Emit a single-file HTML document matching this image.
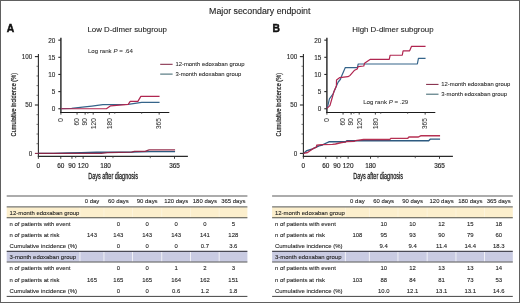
<!DOCTYPE html>
<html><head><meta charset="utf-8"><title>Major secondary endpoint</title>
<style>svg{will-change:transform;transform:translateZ(0);filter:blur(0.28px);}html,body{margin:0;padding:0;background:#fff;width:520px;height:303px;overflow:hidden;font-family:"Liberation Sans", sans-serif;}</style>
</head><body>
<svg width="520" height="303" viewBox="0 0 520 303" style="display:block" font-family='"Liberation Sans", sans-serif'>
<rect x="0" y="0" width="520" height="303" fill="#fff"/>
<style>text{stroke:#1e1e1e;stroke-width:0.1px;paint-order:stroke}</style>
<text x="259.75" y="14.40" font-size="8.82" text-anchor="middle" fill="#222" font-weight="normal" >Major secondary endpoint</text>
<line x1="38.40" y1="54.00" x2="38.40" y2="156.90" stroke="#2a2a2a" stroke-width="1.1" />
<line x1="37.85" y1="156.40" x2="187.90" y2="156.40" stroke="#2a2a2a" stroke-width="1.1" />
<line x1="34.90" y1="153.40" x2="38.40" y2="153.40" stroke="#8a2a48" stroke-width="1.1" />
<line x1="36.50" y1="143.72" x2="38.40" y2="143.72" stroke="#444" stroke-width="0.75" />
<line x1="36.50" y1="134.04" x2="38.40" y2="134.04" stroke="#444" stroke-width="0.75" />
<line x1="36.50" y1="124.36" x2="38.40" y2="124.36" stroke="#444" stroke-width="0.75" />
<line x1="36.50" y1="114.68" x2="38.40" y2="114.68" stroke="#444" stroke-width="0.75" />
<line x1="34.90" y1="105.00" x2="38.40" y2="105.00" stroke="#2a2a2a" stroke-width="1.1" />
<line x1="36.50" y1="95.32" x2="38.40" y2="95.32" stroke="#444" stroke-width="0.75" />
<line x1="36.50" y1="85.64" x2="38.40" y2="85.64" stroke="#444" stroke-width="0.75" />
<line x1="36.50" y1="75.96" x2="38.40" y2="75.96" stroke="#444" stroke-width="0.75" />
<line x1="36.50" y1="66.28" x2="38.40" y2="66.28" stroke="#444" stroke-width="0.75" />
<line x1="34.90" y1="56.60" x2="38.40" y2="56.60" stroke="#2a2a2a" stroke-width="1.1" />
<text x="32.30" y="155.65" font-size="6.3" text-anchor="end" fill="#1e1e1e" font-weight="normal" >0</text>
<text x="32.30" y="107.25" font-size="6.3" text-anchor="end" fill="#1e1e1e" font-weight="normal" >50</text>
<text x="32.30" y="58.85" font-size="6.3" text-anchor="end" fill="#1e1e1e" font-weight="normal" >100</text>
<line x1="38.40" y1="156.40" x2="38.40" y2="158.80" stroke="#2a2a2a" stroke-width="0.9" />
<text x="38.40" y="167.70" font-size="6.45" text-anchor="middle" fill="#1e1e1e" font-weight="normal" style="stroke-width:0.15px">0</text>
<line x1="60.77" y1="156.40" x2="60.77" y2="158.80" stroke="#2a2a2a" stroke-width="0.9" />
<text x="60.77" y="167.70" font-size="6.45" text-anchor="middle" fill="#1e1e1e" font-weight="normal" style="stroke-width:0.15px">60</text>
<line x1="71.96" y1="156.40" x2="71.96" y2="158.80" stroke="#2a2a2a" stroke-width="0.9" />
<text x="71.96" y="167.70" font-size="6.45" text-anchor="middle" fill="#1e1e1e" font-weight="normal" style="stroke-width:0.15px">90</text>
<line x1="83.15" y1="156.40" x2="83.15" y2="158.80" stroke="#2a2a2a" stroke-width="0.9" />
<text x="83.15" y="167.70" font-size="6.45" text-anchor="middle" fill="#1e1e1e" font-weight="normal" style="stroke-width:0.15px">120</text>
<line x1="105.52" y1="156.40" x2="105.52" y2="158.80" stroke="#2a2a2a" stroke-width="0.9" />
<text x="105.52" y="167.70" font-size="6.45" text-anchor="middle" fill="#1e1e1e" font-weight="normal" style="stroke-width:0.15px">180</text>
<line x1="174.51" y1="156.40" x2="174.51" y2="158.80" stroke="#2a2a2a" stroke-width="0.9" />
<text x="174.51" y="167.70" font-size="6.45" text-anchor="middle" fill="#1e1e1e" font-weight="normal" style="stroke-width:0.15px">365</text>
<line x1="75.69" y1="156.40" x2="75.69" y2="158.20" stroke="#444" stroke-width="0.8" />
<line x1="112.98" y1="156.40" x2="112.98" y2="158.20" stroke="#444" stroke-width="0.8" />
<line x1="150.27" y1="156.40" x2="150.27" y2="158.20" stroke="#444" stroke-width="0.8" />
<text x="88.20" y="178.80" font-size="8.5" text-anchor="start" fill="#1e1e1e" font-weight="normal" textLength="49.8" lengthAdjust="spacingAndGlyphs" style="stroke-width:0.28px">Days after diagnosis</text>
<text transform="translate(15.90,104.7) rotate(-90)" x="0" y="0" font-size="8.0" text-anchor="middle" fill="#222" style="stroke-width:0.22px" textLength="63.4" lengthAdjust="spacingAndGlyphs">Cumulative incidence (%)</text>
<polyline points="38.40,153.35 53.32,153.30 68.23,152.96 81.28,152.64 96.57,152.22 131.62,152.16 150.27,151.60 175.07,151.60" fill="none" stroke="#2d5a80" stroke-width="1.35" stroke-linejoin="round" />
<polyline points="38.40,153.40 101.42,153.40 107.39,152.58 131.62,152.16 134.42,151.32 145.05,151.32 149.15,149.92 175.07,149.92" fill="none" stroke="#8e1f40" stroke-width="1.35" stroke-linejoin="round" stroke-opacity="0.92"/>
<line x1="60.90" y1="37.70" x2="60.90" y2="113.10" stroke="#1a1a1a" stroke-width="1.35" />
<line x1="60.40" y1="112.50" x2="169.30" y2="112.50" stroke="#1a1a1a" stroke-width="1.2" />
<line x1="58.30" y1="108.75" x2="60.90" y2="108.75" stroke="#2a2a2a" stroke-width="1.1" />
<text x="55.40" y="111.45" font-size="6.4" text-anchor="end" fill="#1e1e1e" font-weight="normal" >0</text>
<line x1="58.30" y1="91.60" x2="60.90" y2="91.60" stroke="#2a2a2a" stroke-width="1.1" />
<text x="55.40" y="94.30" font-size="6.4" text-anchor="end" fill="#1e1e1e" font-weight="normal" >5</text>
<line x1="58.30" y1="74.45" x2="60.90" y2="74.45" stroke="#2a2a2a" stroke-width="1.1" />
<text x="55.40" y="77.15" font-size="6.4" text-anchor="end" fill="#1e1e1e" font-weight="normal" >10</text>
<line x1="58.30" y1="57.30" x2="60.90" y2="57.30" stroke="#2a2a2a" stroke-width="1.1" />
<text x="55.40" y="60.00" font-size="6.4" text-anchor="end" fill="#1e1e1e" font-weight="normal" >15</text>
<line x1="58.30" y1="40.15" x2="60.90" y2="40.15" stroke="#2a2a2a" stroke-width="1.1" />
<text x="55.40" y="42.85" font-size="6.4" text-anchor="end" fill="#1e1e1e" font-weight="normal" >20</text>
<line x1="60.90" y1="112.50" x2="60.90" y2="114.60" stroke="#2a2a2a" stroke-width="0.9" />
<text transform="translate(63.20,118.2) rotate(-90)" x="0" y="0" font-size="6.5" text-anchor="end" fill="#2e2e2e" style="stroke-width:0.04px">0</text>
<line x1="77.05" y1="112.50" x2="77.05" y2="114.60" stroke="#2a2a2a" stroke-width="0.9" />
<text transform="translate(79.35,118.2) rotate(-90)" x="0" y="0" font-size="6.5" text-anchor="end" fill="#2e2e2e" style="stroke-width:0.04px">60</text>
<line x1="85.13" y1="112.50" x2="85.13" y2="114.60" stroke="#2a2a2a" stroke-width="0.9" />
<text transform="translate(87.43,118.2) rotate(-90)" x="0" y="0" font-size="6.5" text-anchor="end" fill="#2e2e2e" style="stroke-width:0.04px">90</text>
<line x1="93.20" y1="112.50" x2="93.20" y2="114.60" stroke="#2a2a2a" stroke-width="0.9" />
<text transform="translate(95.50,118.2) rotate(-90)" x="0" y="0" font-size="6.5" text-anchor="end" fill="#2e2e2e" style="stroke-width:0.04px">120</text>
<line x1="109.36" y1="112.50" x2="109.36" y2="114.60" stroke="#2a2a2a" stroke-width="0.9" />
<text transform="translate(111.66,118.2) rotate(-90)" x="0" y="0" font-size="6.5" text-anchor="end" fill="#2e2e2e" style="stroke-width:0.04px">180</text>
<line x1="159.16" y1="112.50" x2="159.16" y2="114.60" stroke="#2a2a2a" stroke-width="0.9" />
<text transform="translate(161.46,118.2) rotate(-90)" x="0" y="0" font-size="6.5" text-anchor="end" fill="#2e2e2e" style="stroke-width:0.04px">365</text>
<line x1="87.82" y1="112.50" x2="87.82" y2="114.00" stroke="#555" stroke-width="0.7" />
<line x1="114.74" y1="112.50" x2="114.74" y2="114.00" stroke="#555" stroke-width="0.7" />
<line x1="141.66" y1="112.50" x2="141.66" y2="114.00" stroke="#555" stroke-width="0.7" />
<polyline points="60.90,108.58 71.67,108.41 82.44,107.21 91.86,106.07 102.90,104.57 128.20,104.36 141.66,102.37 159.56,102.37" fill="none" stroke="#35648a" stroke-width="1.2" stroke-linejoin="round" />
<polyline points="60.90,108.75 106.39,108.75 110.70,105.83 128.20,104.36 130.22,101.38 137.89,101.38 140.85,96.40 159.56,96.40" fill="none" stroke="#b02650" stroke-width="1.2" stroke-linejoin="round" />
<text x="127.20" y="32.20" font-size="7.87" text-anchor="middle" fill="#222" font-weight="normal" >Low D-dimer subgroup</text>
<text x="6.70" y="32.20" font-size="10.3" text-anchor="start" fill="#111" font-weight="bold" style="stroke:#111;stroke-width:0.45px">A</text>
<text x="87.90" y="53.00" font-size="6.12" fill="#2a2a2a" style="stroke-width:0.05px">Log rank <tspan font-style="italic">P</tspan> = .64</text>
<line x1="160.20" y1="64.30" x2="172.60" y2="64.30" stroke="#7e1f3e" stroke-width="1.0" />
<line x1="160.20" y1="74.10" x2="172.60" y2="74.10" stroke="#37606a" stroke-width="1.0" />
<text x="175.40" y="66.10" font-size="5.9" text-anchor="start" fill="#2a2a2a" font-weight="normal" style="stroke-width:0.08px">12-month edoxaban group</text>
<text x="175.40" y="76.10" font-size="5.9" text-anchor="start" fill="#2a2a2a" font-weight="normal" style="stroke-width:0.08px">3-month edoxaban group</text>
<line x1="303.40" y1="54.00" x2="303.40" y2="156.90" stroke="#2a2a2a" stroke-width="1.1" />
<line x1="302.85" y1="156.40" x2="452.90" y2="156.40" stroke="#2a2a2a" stroke-width="1.1" />
<line x1="299.90" y1="153.40" x2="303.40" y2="153.40" stroke="#2a2a2a" stroke-width="1.1" />
<line x1="301.50" y1="143.72" x2="303.40" y2="143.72" stroke="#444" stroke-width="0.75" />
<line x1="301.50" y1="134.04" x2="303.40" y2="134.04" stroke="#444" stroke-width="0.75" />
<line x1="301.50" y1="124.36" x2="303.40" y2="124.36" stroke="#444" stroke-width="0.75" />
<line x1="301.50" y1="114.68" x2="303.40" y2="114.68" stroke="#444" stroke-width="0.75" />
<line x1="299.90" y1="105.00" x2="303.40" y2="105.00" stroke="#2a2a2a" stroke-width="1.1" />
<line x1="301.50" y1="95.32" x2="303.40" y2="95.32" stroke="#444" stroke-width="0.75" />
<line x1="301.50" y1="85.64" x2="303.40" y2="85.64" stroke="#444" stroke-width="0.75" />
<line x1="301.50" y1="75.96" x2="303.40" y2="75.96" stroke="#444" stroke-width="0.75" />
<line x1="301.50" y1="66.28" x2="303.40" y2="66.28" stroke="#444" stroke-width="0.75" />
<line x1="299.90" y1="56.60" x2="303.40" y2="56.60" stroke="#2a2a2a" stroke-width="1.1" />
<text x="297.30" y="155.65" font-size="6.3" text-anchor="end" fill="#1e1e1e" font-weight="normal" >0</text>
<text x="297.30" y="107.25" font-size="6.3" text-anchor="end" fill="#1e1e1e" font-weight="normal" >50</text>
<text x="297.30" y="58.85" font-size="6.3" text-anchor="end" fill="#1e1e1e" font-weight="normal" >100</text>
<line x1="303.40" y1="156.40" x2="303.40" y2="158.80" stroke="#2a2a2a" stroke-width="0.9" />
<text x="303.40" y="167.70" font-size="6.45" text-anchor="middle" fill="#1e1e1e" font-weight="normal" style="stroke-width:0.15px">0</text>
<line x1="325.77" y1="156.40" x2="325.77" y2="158.80" stroke="#2a2a2a" stroke-width="0.9" />
<text x="325.77" y="167.70" font-size="6.45" text-anchor="middle" fill="#1e1e1e" font-weight="normal" style="stroke-width:0.15px">60</text>
<line x1="336.96" y1="156.40" x2="336.96" y2="158.80" stroke="#2a2a2a" stroke-width="0.9" />
<text x="336.96" y="167.70" font-size="6.45" text-anchor="middle" fill="#1e1e1e" font-weight="normal" style="stroke-width:0.15px">90</text>
<line x1="348.15" y1="156.40" x2="348.15" y2="158.80" stroke="#2a2a2a" stroke-width="0.9" />
<text x="348.15" y="167.70" font-size="6.45" text-anchor="middle" fill="#1e1e1e" font-weight="normal" style="stroke-width:0.15px">120</text>
<line x1="370.52" y1="156.40" x2="370.52" y2="158.80" stroke="#2a2a2a" stroke-width="0.9" />
<text x="370.52" y="167.70" font-size="6.45" text-anchor="middle" fill="#1e1e1e" font-weight="normal" style="stroke-width:0.15px">180</text>
<line x1="439.51" y1="156.40" x2="439.51" y2="158.80" stroke="#2a2a2a" stroke-width="0.9" />
<text x="439.51" y="167.70" font-size="6.45" text-anchor="middle" fill="#1e1e1e" font-weight="normal" style="stroke-width:0.15px">365</text>
<line x1="340.69" y1="156.40" x2="340.69" y2="158.20" stroke="#444" stroke-width="0.8" />
<line x1="377.98" y1="156.40" x2="377.98" y2="158.20" stroke="#444" stroke-width="0.8" />
<line x1="415.27" y1="156.40" x2="415.27" y2="158.20" stroke="#444" stroke-width="0.8" />
<text x="353.20" y="178.80" font-size="8.5" text-anchor="start" fill="#1e1e1e" font-weight="normal" textLength="49.8" lengthAdjust="spacingAndGlyphs" style="stroke-width:0.28px">Days after diagnosis</text>
<text transform="translate(280.90,104.7) rotate(-90)" x="0" y="0" font-size="8.0" text-anchor="middle" fill="#222" style="stroke-width:0.22px" textLength="63.4" lengthAdjust="spacingAndGlyphs">Cumulative incidence (%)</text>
<polyline points="303.40,153.30 304.11,153.11 306.87,150.59 311.79,149.24 315.71,147.40 319.06,145.85 322.23,145.08 323.09,144.49 328.91,141.78 345.54,141.78 346.81,140.77 428.69,140.77 430.19,139.17 440.07,139.17" fill="none" stroke="#2d5a80" stroke-width="1.35" stroke-linejoin="round" />
<polyline points="303.40,153.30 307.58,152.53 310.75,150.30 313.47,148.37 316.56,147.01 316.71,145.27 321.30,144.59 332.49,144.35 335.47,144.01 341.81,142.52 345.39,142.18 346.77,141.50 354.49,141.34 355.49,140.57 363.66,139.46 389.76,139.46 391.03,138.30 407.81,138.30 408.93,137.04 418.03,137.04 420.68,135.78 440.07,135.78" fill="none" stroke="#b02044" stroke-width="1.35" stroke-linejoin="round" stroke-opacity="0.92"/>
<line x1="326.90" y1="37.70" x2="326.90" y2="113.10" stroke="#1a1a1a" stroke-width="1.35" />
<line x1="326.40" y1="112.50" x2="435.30" y2="112.50" stroke="#1a1a1a" stroke-width="1.2" />
<line x1="324.30" y1="108.75" x2="326.90" y2="108.75" stroke="#2a2a2a" stroke-width="1.1" />
<text x="321.40" y="111.45" font-size="6.4" text-anchor="end" fill="#1e1e1e" font-weight="normal" >0</text>
<line x1="324.30" y1="91.60" x2="326.90" y2="91.60" stroke="#2a2a2a" stroke-width="1.1" />
<text x="321.40" y="94.30" font-size="6.4" text-anchor="end" fill="#1e1e1e" font-weight="normal" >5</text>
<line x1="324.30" y1="74.45" x2="326.90" y2="74.45" stroke="#2a2a2a" stroke-width="1.1" />
<text x="321.40" y="77.15" font-size="6.4" text-anchor="end" fill="#1e1e1e" font-weight="normal" >10</text>
<line x1="324.30" y1="57.30" x2="326.90" y2="57.30" stroke="#2a2a2a" stroke-width="1.1" />
<text x="321.40" y="60.00" font-size="6.4" text-anchor="end" fill="#1e1e1e" font-weight="normal" >15</text>
<line x1="324.30" y1="40.15" x2="326.90" y2="40.15" stroke="#2a2a2a" stroke-width="1.1" />
<text x="321.40" y="42.85" font-size="6.4" text-anchor="end" fill="#1e1e1e" font-weight="normal" >20</text>
<line x1="326.90" y1="112.50" x2="326.90" y2="114.60" stroke="#2a2a2a" stroke-width="0.9" />
<text transform="translate(329.20,118.2) rotate(-90)" x="0" y="0" font-size="6.5" text-anchor="end" fill="#2e2e2e" style="stroke-width:0.04px">0</text>
<line x1="343.05" y1="112.50" x2="343.05" y2="114.60" stroke="#2a2a2a" stroke-width="0.9" />
<text transform="translate(345.35,118.2) rotate(-90)" x="0" y="0" font-size="6.5" text-anchor="end" fill="#2e2e2e" style="stroke-width:0.04px">60</text>
<line x1="351.13" y1="112.50" x2="351.13" y2="114.60" stroke="#2a2a2a" stroke-width="0.9" />
<text transform="translate(353.43,118.2) rotate(-90)" x="0" y="0" font-size="6.5" text-anchor="end" fill="#2e2e2e" style="stroke-width:0.04px">90</text>
<line x1="359.20" y1="112.50" x2="359.20" y2="114.60" stroke="#2a2a2a" stroke-width="0.9" />
<text transform="translate(361.50,118.2) rotate(-90)" x="0" y="0" font-size="6.5" text-anchor="end" fill="#2e2e2e" style="stroke-width:0.04px">120</text>
<line x1="375.36" y1="112.50" x2="375.36" y2="114.60" stroke="#2a2a2a" stroke-width="0.9" />
<text transform="translate(377.66,118.2) rotate(-90)" x="0" y="0" font-size="6.5" text-anchor="end" fill="#2e2e2e" style="stroke-width:0.04px">180</text>
<line x1="425.16" y1="112.50" x2="425.16" y2="114.60" stroke="#2a2a2a" stroke-width="0.9" />
<text transform="translate(427.46,118.2) rotate(-90)" x="0" y="0" font-size="6.5" text-anchor="end" fill="#2e2e2e" style="stroke-width:0.04px">365</text>
<line x1="353.82" y1="112.50" x2="353.82" y2="114.00" stroke="#555" stroke-width="0.7" />
<line x1="380.74" y1="112.50" x2="380.74" y2="114.00" stroke="#555" stroke-width="0.7" />
<line x1="407.66" y1="112.50" x2="407.66" y2="114.00" stroke="#555" stroke-width="0.7" />
<polyline points="326.90,108.41 327.41,107.72 329.40,98.80 332.96,94.00 335.78,87.48 338.21,82.00 340.49,79.25 341.11,77.19 345.31,67.59 357.32,67.59 358.23,63.99 417.35,63.99 418.43,58.33 425.56,58.33" fill="none" stroke="#35648a" stroke-width="1.2" stroke-linejoin="round" />
<polyline points="326.90,108.41 329.92,105.66 332.20,97.77 334.17,90.91 336.40,86.11 336.51,79.94 339.82,77.54 347.90,76.68 350.05,75.48 354.63,70.20 357.21,69.00 358.21,66.60 363.78,66.01 364.51,63.30 370.40,59.36 389.25,59.36 390.16,55.24 402.28,55.24 403.08,50.78 409.65,50.78 411.56,46.32 425.56,46.32" fill="none" stroke="#b02650" stroke-width="1.2" stroke-linejoin="round" />
<text x="392.90" y="32.20" font-size="7.87" text-anchor="middle" fill="#222" font-weight="normal" >High D-dimer subgroup</text>
<text x="272.40" y="32.20" font-size="10.3" text-anchor="start" fill="#111" font-weight="bold" style="stroke:#111;stroke-width:0.45px">B</text>
<text x="363.20" y="104.40" font-size="6.12" fill="#2a2a2a" style="stroke-width:0.05px">Log rank <tspan font-style="italic">P</tspan> = .29</text>
<line x1="426.10" y1="84.40" x2="438.50" y2="84.40" stroke="#7e1f3e" stroke-width="1.0" />
<line x1="426.10" y1="94.20" x2="438.50" y2="94.20" stroke="#37606a" stroke-width="1.0" />
<text x="441.30" y="86.20" font-size="5.9" text-anchor="start" fill="#2a2a2a" font-weight="normal" style="stroke-width:0.08px">12-month edoxaban group</text>
<text x="441.30" y="96.20" font-size="5.9" text-anchor="start" fill="#2a2a2a" font-weight="normal" style="stroke-width:0.08px">3-month edoxaban group</text>
<rect x="6.70" y="207.2" width="240.70" height="10.6" fill="#fcefcd"/>
<rect x="6.70" y="251.8" width="240.70" height="10.0" fill="#c9cbe2"/>
<rect x="79.50" y="207.2" width="0.9" height="10.6" fill="#fff" opacity="0.35"/>
<rect x="79.50" y="251.8" width="0.9" height="10.0" fill="#fff" opacity="0.8"/>
<rect x="103.50" y="207.2" width="0.9" height="10.6" fill="#fff" opacity="0.35"/>
<rect x="103.50" y="251.8" width="0.9" height="10.0" fill="#fff" opacity="0.8"/>
<rect x="132.10" y="207.2" width="0.9" height="10.6" fill="#fff" opacity="0.35"/>
<rect x="132.10" y="251.8" width="0.9" height="10.0" fill="#fff" opacity="0.8"/>
<rect x="161.30" y="207.2" width="0.9" height="10.6" fill="#fff" opacity="0.35"/>
<rect x="161.30" y="251.8" width="0.9" height="10.0" fill="#fff" opacity="0.8"/>
<rect x="190.10" y="207.2" width="0.9" height="10.6" fill="#fff" opacity="0.35"/>
<rect x="190.10" y="251.8" width="0.9" height="10.0" fill="#fff" opacity="0.8"/>
<rect x="218.70" y="207.2" width="0.9" height="10.6" fill="#fff" opacity="0.35"/>
<rect x="218.70" y="251.8" width="0.9" height="10.0" fill="#fff" opacity="0.8"/>
<line x1="6.70" y1="196.00" x2="247.40" y2="196.00" stroke="#5a5a5a" stroke-width="1.1" />
<line x1="6.70" y1="206.90" x2="247.40" y2="206.90" stroke="#555550" stroke-width="1.0" />
<line x1="6.70" y1="217.70" x2="247.40" y2="217.70" stroke="#4f4f48" stroke-width="1.1" />
<line x1="6.70" y1="251.40" x2="247.40" y2="251.40" stroke="#4a4a55" stroke-width="1.3" />
<line x1="6.70" y1="262.00" x2="247.40" y2="262.00" stroke="#555" stroke-width="1.0" />
<line x1="6.70" y1="296.40" x2="247.40" y2="296.40" stroke="#444" stroke-width="1.0" />
<text x="92.00" y="203.20" font-size="6.15" text-anchor="middle" fill="#1e1e1e" font-weight="normal" textLength="14.56" lengthAdjust="spacingAndGlyphs" >0 day</text>
<text x="118.30" y="203.20" font-size="6.15" text-anchor="middle" fill="#1e1e1e" font-weight="normal" textLength="20.84" lengthAdjust="spacingAndGlyphs" >60 days</text>
<text x="147.20" y="203.20" font-size="6.15" text-anchor="middle" fill="#1e1e1e" font-weight="normal" textLength="20.84" lengthAdjust="spacingAndGlyphs" >90 days</text>
<text x="176.20" y="203.20" font-size="6.15" text-anchor="middle" fill="#1e1e1e" font-weight="normal" textLength="24.15" lengthAdjust="spacingAndGlyphs" >120 days</text>
<text x="204.90" y="203.20" font-size="6.15" text-anchor="middle" fill="#1e1e1e" font-weight="normal" textLength="24.15" lengthAdjust="spacingAndGlyphs" >180 days</text>
<text x="233.30" y="203.20" font-size="6.15" text-anchor="middle" fill="#1e1e1e" font-weight="normal" textLength="24.15" lengthAdjust="spacingAndGlyphs" >365 days</text>
<text x="9.60" y="214.50" font-size="6.15" text-anchor="start" fill="#1e1e1e" font-weight="normal" textLength="69.8" lengthAdjust="spacingAndGlyphs" >12-month edoxaban group</text>
<text x="9.60" y="259.40" font-size="6.15" text-anchor="start" fill="#1e1e1e" font-weight="normal" textLength="66.49" lengthAdjust="spacingAndGlyphs" >3-month edoxaban group</text>
<text x="9.60" y="225.80" font-size="6.15" text-anchor="start" fill="#1e1e1e" font-weight="normal" textLength="60.86" lengthAdjust="spacingAndGlyphs" >n of patients with event</text>
<text x="118.30" y="225.80" font-size="6.15" text-anchor="middle" fill="#1e1e1e" font-weight="normal" textLength="3.31" lengthAdjust="spacingAndGlyphs" >0</text>
<text x="147.20" y="225.80" font-size="6.15" text-anchor="middle" fill="#1e1e1e" font-weight="normal" textLength="3.31" lengthAdjust="spacingAndGlyphs" >0</text>
<text x="176.20" y="225.80" font-size="6.15" text-anchor="middle" fill="#1e1e1e" font-weight="normal" textLength="3.31" lengthAdjust="spacingAndGlyphs" >0</text>
<text x="204.90" y="225.80" font-size="6.15" text-anchor="middle" fill="#1e1e1e" font-weight="normal" textLength="3.31" lengthAdjust="spacingAndGlyphs" >0</text>
<text x="233.30" y="225.80" font-size="6.15" text-anchor="middle" fill="#1e1e1e" font-weight="normal" textLength="3.31" lengthAdjust="spacingAndGlyphs" >5</text>
<text x="9.60" y="236.80" font-size="6.15" text-anchor="start" fill="#1e1e1e" font-weight="normal" textLength="49.94" lengthAdjust="spacingAndGlyphs" >n of patients at risk</text>
<text x="92.00" y="236.80" font-size="6.15" text-anchor="middle" fill="#1e1e1e" font-weight="normal" textLength="9.93" lengthAdjust="spacingAndGlyphs" >143</text>
<text x="118.30" y="236.80" font-size="6.15" text-anchor="middle" fill="#1e1e1e" font-weight="normal" textLength="9.93" lengthAdjust="spacingAndGlyphs" >143</text>
<text x="147.20" y="236.80" font-size="6.15" text-anchor="middle" fill="#1e1e1e" font-weight="normal" textLength="9.93" lengthAdjust="spacingAndGlyphs" >143</text>
<text x="176.20" y="236.80" font-size="6.15" text-anchor="middle" fill="#1e1e1e" font-weight="normal" textLength="9.93" lengthAdjust="spacingAndGlyphs" >143</text>
<text x="204.90" y="236.80" font-size="6.15" text-anchor="middle" fill="#1e1e1e" font-weight="normal" textLength="9.93" lengthAdjust="spacingAndGlyphs" >141</text>
<text x="233.30" y="236.80" font-size="6.15" text-anchor="middle" fill="#1e1e1e" font-weight="normal" textLength="9.93" lengthAdjust="spacingAndGlyphs" >128</text>
<text x="9.60" y="247.80" font-size="6.15" text-anchor="start" fill="#1e1e1e" font-weight="normal" textLength="67.46" lengthAdjust="spacingAndGlyphs" >Cumulative incidence (%)</text>
<text x="118.30" y="247.80" font-size="6.15" text-anchor="middle" fill="#1e1e1e" font-weight="normal" textLength="3.31" lengthAdjust="spacingAndGlyphs" >0</text>
<text x="147.20" y="247.80" font-size="6.15" text-anchor="middle" fill="#1e1e1e" font-weight="normal" textLength="3.31" lengthAdjust="spacingAndGlyphs" >0</text>
<text x="176.20" y="247.80" font-size="6.15" text-anchor="middle" fill="#1e1e1e" font-weight="normal" textLength="3.31" lengthAdjust="spacingAndGlyphs" >0</text>
<text x="204.90" y="247.80" font-size="6.15" text-anchor="middle" fill="#1e1e1e" font-weight="normal" textLength="8.27" lengthAdjust="spacingAndGlyphs" >0.7</text>
<text x="233.30" y="247.80" font-size="6.15" text-anchor="middle" fill="#1e1e1e" font-weight="normal" textLength="8.27" lengthAdjust="spacingAndGlyphs" >3.6</text>
<text x="9.60" y="270.30" font-size="6.15" text-anchor="start" fill="#1e1e1e" font-weight="normal" textLength="60.86" lengthAdjust="spacingAndGlyphs" >n of patients with event</text>
<text x="118.30" y="270.30" font-size="6.15" text-anchor="middle" fill="#1e1e1e" font-weight="normal" textLength="3.31" lengthAdjust="spacingAndGlyphs" >0</text>
<text x="147.20" y="270.30" font-size="6.15" text-anchor="middle" fill="#1e1e1e" font-weight="normal" textLength="3.31" lengthAdjust="spacingAndGlyphs" >0</text>
<text x="176.20" y="270.30" font-size="6.15" text-anchor="middle" fill="#1e1e1e" font-weight="normal" textLength="3.31" lengthAdjust="spacingAndGlyphs" >1</text>
<text x="204.90" y="270.30" font-size="6.15" text-anchor="middle" fill="#1e1e1e" font-weight="normal" textLength="3.31" lengthAdjust="spacingAndGlyphs" >2</text>
<text x="233.30" y="270.30" font-size="6.15" text-anchor="middle" fill="#1e1e1e" font-weight="normal" textLength="3.31" lengthAdjust="spacingAndGlyphs" >3</text>
<text x="9.60" y="281.60" font-size="6.15" text-anchor="start" fill="#1e1e1e" font-weight="normal" textLength="49.94" lengthAdjust="spacingAndGlyphs" >n of patients at risk</text>
<text x="92.00" y="281.60" font-size="6.15" text-anchor="middle" fill="#1e1e1e" font-weight="normal" textLength="9.93" lengthAdjust="spacingAndGlyphs" >165</text>
<text x="118.30" y="281.60" font-size="6.15" text-anchor="middle" fill="#1e1e1e" font-weight="normal" textLength="9.93" lengthAdjust="spacingAndGlyphs" >165</text>
<text x="147.20" y="281.60" font-size="6.15" text-anchor="middle" fill="#1e1e1e" font-weight="normal" textLength="9.93" lengthAdjust="spacingAndGlyphs" >165</text>
<text x="176.20" y="281.60" font-size="6.15" text-anchor="middle" fill="#1e1e1e" font-weight="normal" textLength="9.93" lengthAdjust="spacingAndGlyphs" >164</text>
<text x="204.90" y="281.60" font-size="6.15" text-anchor="middle" fill="#1e1e1e" font-weight="normal" textLength="9.93" lengthAdjust="spacingAndGlyphs" >162</text>
<text x="233.30" y="281.60" font-size="6.15" text-anchor="middle" fill="#1e1e1e" font-weight="normal" textLength="9.93" lengthAdjust="spacingAndGlyphs" >151</text>
<text x="9.60" y="293.10" font-size="6.15" text-anchor="start" fill="#1e1e1e" font-weight="normal" textLength="67.46" lengthAdjust="spacingAndGlyphs" >Cumulative incidence (%)</text>
<text x="118.30" y="293.10" font-size="6.15" text-anchor="middle" fill="#1e1e1e" font-weight="normal" textLength="3.31" lengthAdjust="spacingAndGlyphs" >0</text>
<text x="147.20" y="293.10" font-size="6.15" text-anchor="middle" fill="#1e1e1e" font-weight="normal" textLength="3.31" lengthAdjust="spacingAndGlyphs" >0</text>
<text x="176.20" y="293.10" font-size="6.15" text-anchor="middle" fill="#1e1e1e" font-weight="normal" textLength="8.27" lengthAdjust="spacingAndGlyphs" >0.6</text>
<text x="204.90" y="293.10" font-size="6.15" text-anchor="middle" fill="#1e1e1e" font-weight="normal" textLength="8.27" lengthAdjust="spacingAndGlyphs" >1.2</text>
<text x="233.30" y="293.10" font-size="6.15" text-anchor="middle" fill="#1e1e1e" font-weight="normal" textLength="8.27" lengthAdjust="spacingAndGlyphs" >1.8</text>
<rect x="272.10" y="207.2" width="240.70" height="10.6" fill="#fcefcd"/>
<rect x="272.10" y="251.8" width="240.70" height="10.0" fill="#c9cbe2"/>
<rect x="344.90" y="207.2" width="0.9" height="10.6" fill="#fff" opacity="0.35"/>
<rect x="344.90" y="251.8" width="0.9" height="10.0" fill="#fff" opacity="0.8"/>
<rect x="368.90" y="207.2" width="0.9" height="10.6" fill="#fff" opacity="0.35"/>
<rect x="368.90" y="251.8" width="0.9" height="10.0" fill="#fff" opacity="0.8"/>
<rect x="397.50" y="207.2" width="0.9" height="10.6" fill="#fff" opacity="0.35"/>
<rect x="397.50" y="251.8" width="0.9" height="10.0" fill="#fff" opacity="0.8"/>
<rect x="426.70" y="207.2" width="0.9" height="10.6" fill="#fff" opacity="0.35"/>
<rect x="426.70" y="251.8" width="0.9" height="10.0" fill="#fff" opacity="0.8"/>
<rect x="455.50" y="207.2" width="0.9" height="10.6" fill="#fff" opacity="0.35"/>
<rect x="455.50" y="251.8" width="0.9" height="10.0" fill="#fff" opacity="0.8"/>
<rect x="484.10" y="207.2" width="0.9" height="10.6" fill="#fff" opacity="0.35"/>
<rect x="484.10" y="251.8" width="0.9" height="10.0" fill="#fff" opacity="0.8"/>
<line x1="272.10" y1="196.00" x2="512.80" y2="196.00" stroke="#5a5a5a" stroke-width="1.1" />
<line x1="272.10" y1="206.90" x2="512.80" y2="206.90" stroke="#555550" stroke-width="1.0" />
<line x1="272.10" y1="217.70" x2="512.80" y2="217.70" stroke="#4f4f48" stroke-width="1.1" />
<line x1="272.10" y1="251.40" x2="512.80" y2="251.40" stroke="#4a4a55" stroke-width="1.3" />
<line x1="272.10" y1="262.00" x2="512.80" y2="262.00" stroke="#555" stroke-width="1.0" />
<line x1="272.10" y1="296.40" x2="512.80" y2="296.40" stroke="#444" stroke-width="1.0" />
<text x="357.40" y="203.20" font-size="6.15" text-anchor="middle" fill="#1e1e1e" font-weight="normal" textLength="14.56" lengthAdjust="spacingAndGlyphs" >0 day</text>
<text x="383.70" y="203.20" font-size="6.15" text-anchor="middle" fill="#1e1e1e" font-weight="normal" textLength="20.84" lengthAdjust="spacingAndGlyphs" >60 days</text>
<text x="412.60" y="203.20" font-size="6.15" text-anchor="middle" fill="#1e1e1e" font-weight="normal" textLength="20.84" lengthAdjust="spacingAndGlyphs" >90 days</text>
<text x="441.60" y="203.20" font-size="6.15" text-anchor="middle" fill="#1e1e1e" font-weight="normal" textLength="24.15" lengthAdjust="spacingAndGlyphs" >120 days</text>
<text x="470.30" y="203.20" font-size="6.15" text-anchor="middle" fill="#1e1e1e" font-weight="normal" textLength="24.15" lengthAdjust="spacingAndGlyphs" >180 days</text>
<text x="498.70" y="203.20" font-size="6.15" text-anchor="middle" fill="#1e1e1e" font-weight="normal" textLength="24.15" lengthAdjust="spacingAndGlyphs" >365 days</text>
<text x="275.00" y="214.50" font-size="6.15" text-anchor="start" fill="#1e1e1e" font-weight="normal" textLength="69.8" lengthAdjust="spacingAndGlyphs" >12-month edoxaban group</text>
<text x="275.00" y="259.40" font-size="6.15" text-anchor="start" fill="#1e1e1e" font-weight="normal" textLength="66.49" lengthAdjust="spacingAndGlyphs" >3-month edoxaban group</text>
<text x="275.00" y="225.80" font-size="6.15" text-anchor="start" fill="#1e1e1e" font-weight="normal" textLength="60.86" lengthAdjust="spacingAndGlyphs" >n of patients with event</text>
<text x="383.70" y="225.80" font-size="6.15" text-anchor="middle" fill="#1e1e1e" font-weight="normal" textLength="6.62" lengthAdjust="spacingAndGlyphs" >10</text>
<text x="412.60" y="225.80" font-size="6.15" text-anchor="middle" fill="#1e1e1e" font-weight="normal" textLength="6.62" lengthAdjust="spacingAndGlyphs" >10</text>
<text x="441.60" y="225.80" font-size="6.15" text-anchor="middle" fill="#1e1e1e" font-weight="normal" textLength="6.62" lengthAdjust="spacingAndGlyphs" >12</text>
<text x="470.30" y="225.80" font-size="6.15" text-anchor="middle" fill="#1e1e1e" font-weight="normal" textLength="6.62" lengthAdjust="spacingAndGlyphs" >15</text>
<text x="498.70" y="225.80" font-size="6.15" text-anchor="middle" fill="#1e1e1e" font-weight="normal" textLength="6.62" lengthAdjust="spacingAndGlyphs" >18</text>
<text x="275.00" y="236.80" font-size="6.15" text-anchor="start" fill="#1e1e1e" font-weight="normal" textLength="49.94" lengthAdjust="spacingAndGlyphs" >n of patients at risk</text>
<text x="357.40" y="236.80" font-size="6.15" text-anchor="middle" fill="#1e1e1e" font-weight="normal" textLength="9.93" lengthAdjust="spacingAndGlyphs" >108</text>
<text x="383.70" y="236.80" font-size="6.15" text-anchor="middle" fill="#1e1e1e" font-weight="normal" textLength="6.62" lengthAdjust="spacingAndGlyphs" >95</text>
<text x="412.60" y="236.80" font-size="6.15" text-anchor="middle" fill="#1e1e1e" font-weight="normal" textLength="6.62" lengthAdjust="spacingAndGlyphs" >93</text>
<text x="441.60" y="236.80" font-size="6.15" text-anchor="middle" fill="#1e1e1e" font-weight="normal" textLength="6.62" lengthAdjust="spacingAndGlyphs" >90</text>
<text x="470.30" y="236.80" font-size="6.15" text-anchor="middle" fill="#1e1e1e" font-weight="normal" textLength="6.62" lengthAdjust="spacingAndGlyphs" >79</text>
<text x="498.70" y="236.80" font-size="6.15" text-anchor="middle" fill="#1e1e1e" font-weight="normal" textLength="6.62" lengthAdjust="spacingAndGlyphs" >60</text>
<text x="275.00" y="247.80" font-size="6.15" text-anchor="start" fill="#1e1e1e" font-weight="normal" textLength="67.46" lengthAdjust="spacingAndGlyphs" >Cumulative incidence (%)</text>
<text x="383.70" y="247.80" font-size="6.15" text-anchor="middle" fill="#1e1e1e" font-weight="normal" textLength="8.27" lengthAdjust="spacingAndGlyphs" >9.4</text>
<text x="412.60" y="247.80" font-size="6.15" text-anchor="middle" fill="#1e1e1e" font-weight="normal" textLength="8.27" lengthAdjust="spacingAndGlyphs" >9.4</text>
<text x="441.60" y="247.80" font-size="6.15" text-anchor="middle" fill="#1e1e1e" font-weight="normal" textLength="11.14" lengthAdjust="spacingAndGlyphs" >11.4</text>
<text x="470.30" y="247.80" font-size="6.15" text-anchor="middle" fill="#1e1e1e" font-weight="normal" textLength="11.58" lengthAdjust="spacingAndGlyphs" >14.4</text>
<text x="498.70" y="247.80" font-size="6.15" text-anchor="middle" fill="#1e1e1e" font-weight="normal" textLength="11.58" lengthAdjust="spacingAndGlyphs" >18.3</text>
<text x="275.00" y="270.30" font-size="6.15" text-anchor="start" fill="#1e1e1e" font-weight="normal" textLength="60.86" lengthAdjust="spacingAndGlyphs" >n of patients with event</text>
<text x="383.70" y="270.30" font-size="6.15" text-anchor="middle" fill="#1e1e1e" font-weight="normal" textLength="6.62" lengthAdjust="spacingAndGlyphs" >10</text>
<text x="412.60" y="270.30" font-size="6.15" text-anchor="middle" fill="#1e1e1e" font-weight="normal" textLength="6.62" lengthAdjust="spacingAndGlyphs" >12</text>
<text x="441.60" y="270.30" font-size="6.15" text-anchor="middle" fill="#1e1e1e" font-weight="normal" textLength="6.62" lengthAdjust="spacingAndGlyphs" >13</text>
<text x="470.30" y="270.30" font-size="6.15" text-anchor="middle" fill="#1e1e1e" font-weight="normal" textLength="6.62" lengthAdjust="spacingAndGlyphs" >13</text>
<text x="498.70" y="270.30" font-size="6.15" text-anchor="middle" fill="#1e1e1e" font-weight="normal" textLength="6.62" lengthAdjust="spacingAndGlyphs" >14</text>
<text x="275.00" y="281.60" font-size="6.15" text-anchor="start" fill="#1e1e1e" font-weight="normal" textLength="49.94" lengthAdjust="spacingAndGlyphs" >n of patients at risk</text>
<text x="357.40" y="281.60" font-size="6.15" text-anchor="middle" fill="#1e1e1e" font-weight="normal" textLength="9.93" lengthAdjust="spacingAndGlyphs" >103</text>
<text x="383.70" y="281.60" font-size="6.15" text-anchor="middle" fill="#1e1e1e" font-weight="normal" textLength="6.62" lengthAdjust="spacingAndGlyphs" >88</text>
<text x="412.60" y="281.60" font-size="6.15" text-anchor="middle" fill="#1e1e1e" font-weight="normal" textLength="6.62" lengthAdjust="spacingAndGlyphs" >84</text>
<text x="441.60" y="281.60" font-size="6.15" text-anchor="middle" fill="#1e1e1e" font-weight="normal" textLength="6.62" lengthAdjust="spacingAndGlyphs" >81</text>
<text x="470.30" y="281.60" font-size="6.15" text-anchor="middle" fill="#1e1e1e" font-weight="normal" textLength="6.62" lengthAdjust="spacingAndGlyphs" >73</text>
<text x="498.70" y="281.60" font-size="6.15" text-anchor="middle" fill="#1e1e1e" font-weight="normal" textLength="6.62" lengthAdjust="spacingAndGlyphs" >53</text>
<text x="275.00" y="293.10" font-size="6.15" text-anchor="start" fill="#1e1e1e" font-weight="normal" textLength="67.46" lengthAdjust="spacingAndGlyphs" >Cumulative incidence (%)</text>
<text x="383.70" y="293.10" font-size="6.15" text-anchor="middle" fill="#1e1e1e" font-weight="normal" textLength="11.58" lengthAdjust="spacingAndGlyphs" >10.0</text>
<text x="412.60" y="293.10" font-size="6.15" text-anchor="middle" fill="#1e1e1e" font-weight="normal" textLength="11.58" lengthAdjust="spacingAndGlyphs" >12.1</text>
<text x="441.60" y="293.10" font-size="6.15" text-anchor="middle" fill="#1e1e1e" font-weight="normal" textLength="11.58" lengthAdjust="spacingAndGlyphs" >13.1</text>
<text x="470.30" y="293.10" font-size="6.15" text-anchor="middle" fill="#1e1e1e" font-weight="normal" textLength="11.58" lengthAdjust="spacingAndGlyphs" >13.1</text>
<text x="498.70" y="293.10" font-size="6.15" text-anchor="middle" fill="#1e1e1e" font-weight="normal" textLength="11.58" lengthAdjust="spacingAndGlyphs" >14.6</text>
<rect x="0.5" y="0.5" width="519" height="302" fill="none" stroke="#606060" stroke-width="1"/>
</svg>
</body></html>
